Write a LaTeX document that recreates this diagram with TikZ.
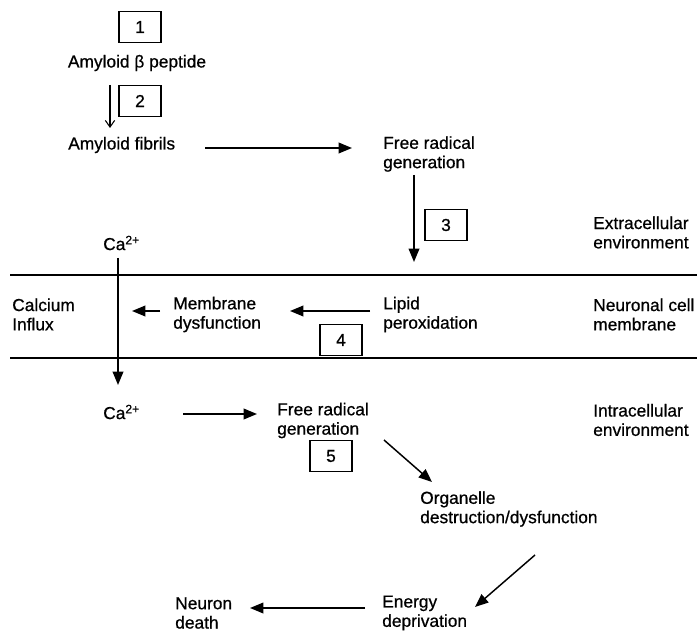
\documentclass[tikz,border=0pt]{standalone}
\usepackage{fontspec}
\setmainfont{Liberation Sans}[FakeBold=0.7]
\usetikzlibrary{arrows.meta}
\begin{document}
\begin{tikzpicture}[x=0.75pt,y=-0.75pt,
  every node/.style={font=\fontsize{13}{14.5}\selectfont, inner sep=0pt, align=left},
  lbl/.style={anchor=west},
  numbox/.style={draw, line width=0.9pt, minimum width=31.5pt, minimum height=23.5pt, align=center},
  arr/.style={line width=1.1pt, -{Triangle[length=10pt,width=8pt]}},
  thinarr/.style={line width=0.8pt, -{Straight Barb[length=5pt,width=7pt]}},
  memline/.style={line width=1.6pt}]
\useasboundingbox (0,0) rectangle (697,638);

% membrane lines
\coordinate (m1l) at (10,275); \coordinate (m1r) at (697,275);
\coordinate (m2l) at (10,358); \coordinate (m2r) at (697,358);
\draw[memline] (m1l) -- (m1r);
\draw[memline] (m2l) -- (m2r);

% top part
\node[numbox] (b1) at (140,27) {1};
\node (abp) at (137,63) {Amyloid β peptide};
\node[numbox] (b2) at (140,101) {2};
\node[lbl] (fib) at (68,145) {Amyloid fibrils};
\node[lbl] (frg1) at (383,154) {Free radical\\generation};
\node[numbox] (b3) at (446,225) {3};
\node[lbl] (extra) at (593,232.5) {Extracellular\\environment};
\node[lbl] (ca1) at (103,243) {Ca\textsuperscript{2+}};

% membrane
\node[lbl] (calc) at (12,314.5) {Calcium\\Influx};
\node[lbl] (memd) at (173,314.5) {Membrane\\dysfunction};
\node[lbl] (lip) at (383,314.5) {Lipid\\peroxidation};
\node[numbox] (b4) at (341,340) {4};
\node[lbl] (neur) at (593,314.5) {Neuronal cell\\membrane};

% intracellular
\node[lbl] (ca2) at (103,412) {Ca\textsuperscript{2+}};
\node[lbl] (frg2) at (277,420.5) {Free radical\\generation};
\node[numbox] (b5) at (331,456) {5};
\node[lbl] (intra) at (593,420) {Intracellular\\environment};
\node[lbl] (org) at (420,509) {Organelle\\destruction/dysfunction};
\node[lbl] (ener) at (382,613) {Energy\\deprivation};
\node[lbl] (death) at (175,613) {Neuron\\death};

% connector end points
\coordinate (a2s) at (110,85);  \coordinate (a2e) at (110,128);
\coordinate (afs) at (205,148); \coordinate (afe) at (352,148);
\coordinate (a3s) at (414,175); \coordinate (a3e) at (414,262);
\coordinate (cas) at (118,258); \coordinate (cae) at (118,385);
\coordinate (ams) at (160,311); \coordinate (ame) at (132,311);
\coordinate (als) at (370,311); \coordinate (ale) at (290,311);
\coordinate (acs) at (183,414); \coordinate (ace) at (257,414);
\coordinate (ads) at (384,440); \coordinate (ade) at (432,482);
\coordinate (aos) at (535,555); \coordinate (aoe) at (475,607);
\coordinate (aes) at (365,608); \coordinate (aee) at (250,608);

\draw[thinarr] (a2s) -- (a2e);
\draw[arr] (afs) -- (afe);
\draw[arr] (a3s) -- (a3e);
\draw[arr] (cas) -- (cae);
\draw[arr] (ams) -- (ame);
\draw[arr] (als) -- (ale);
\draw[arr] (acs) -- (ace);
\draw[arr] (ads) -- (ade);
\draw[arr] (aos) -- (aoe);
\draw[arr] (aes) -- (aee);
\end{tikzpicture}
\end{document}
